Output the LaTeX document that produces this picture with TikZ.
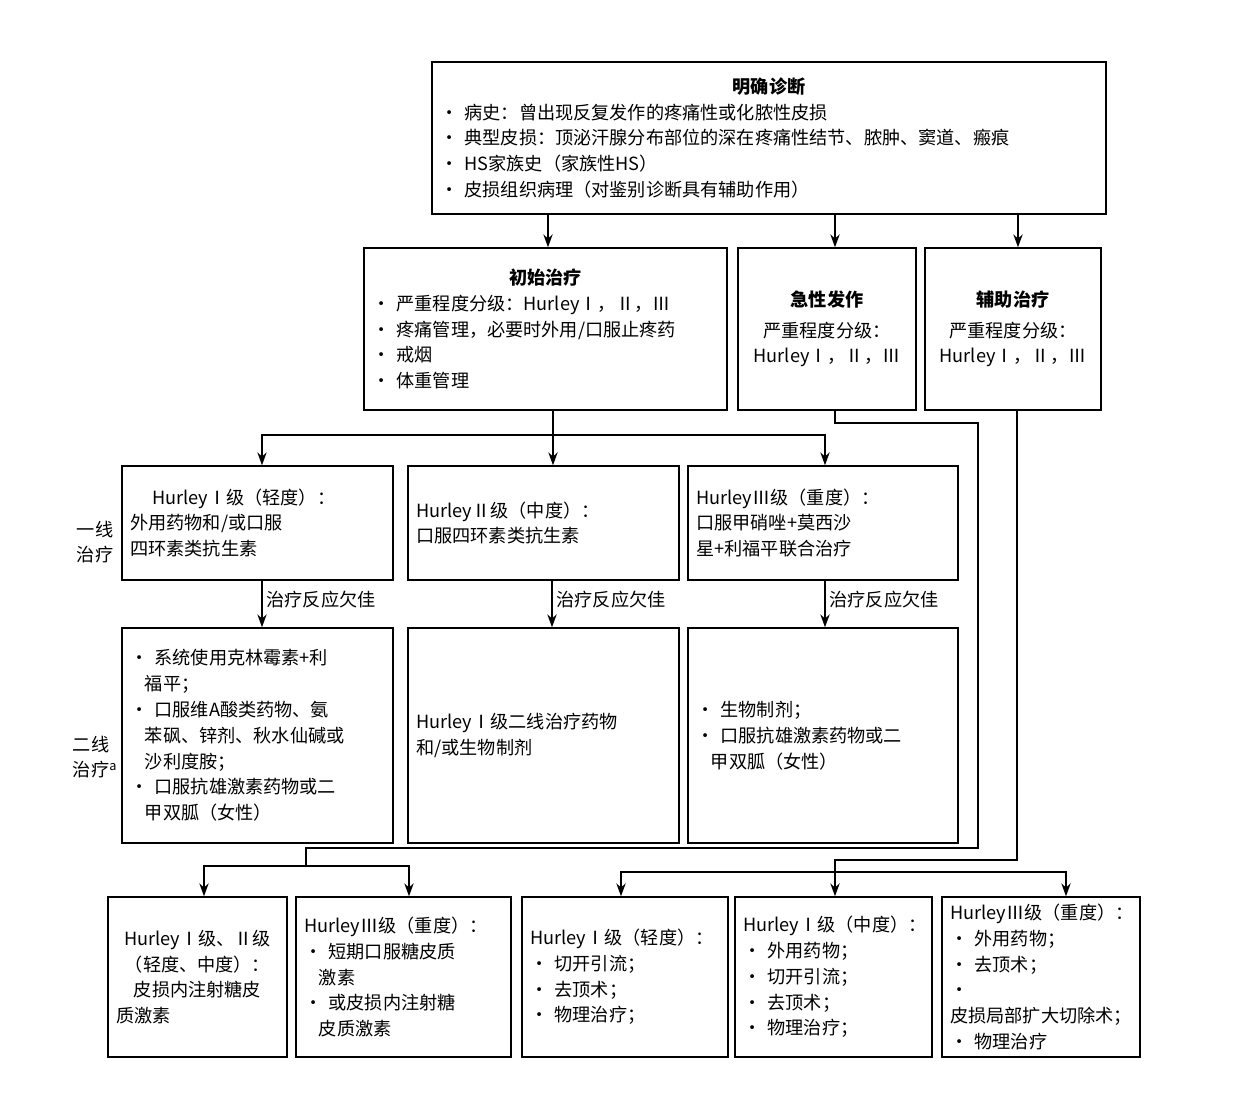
\documentclass[tikz,border=0pt]{standalone}
\usepackage{fontspec}
\setmainfont{Noto Sans CJK SC}
\usetikzlibrary{arrows.meta}
\newcommand{\bx}[6]{\node[box,minimum width={(#4-#2)*0.03cm},minimum height={(#5-#3)*0.03cm},text width={(#4-#2)*0.03cm-0.5cm}] (#1) at ({(#2+#4)/2},{(#3+#5)/2}) {#6};}
\begin{document}
\begin{tikzpicture}[x=0.03cm,y=-0.03cm,
 box/.style={draw,line width=1.3pt,inner sep=0pt,align=left,font=\fontsize{15.5}{22}\selectfont},
 ar/.style={line width=1.1pt,-{Stealth[length=11pt,width=8pt]}},
 ln/.style={line width=1.1pt},
 lab/.style={font=\fontsize{15.5}{22}\selectfont,align=left}]
\useasboundingbox (0,0) rectangle (1247,1116);
\bx{top}{432}{62}{1106}{214}{\centering\textbf{明确诊断}\par\raggedright
• 病史：曾出现反复发作的疼痛性或化脓性皮损\\
• 典型皮损：顶泌汗腺分布部位的深在疼痛性结节、脓肿、窦道、瘢痕\\
• HS家族史（家族性HS）\\
• 皮损组织病理（对鉴别诊断具有辅助作用）}
\bx{init}{364}{248}{727}{410}{\centering\textbf{初始治疗}\par\raggedright
• 严重程度分级：HurleyⅠ，Ⅱ，Ⅲ\\
• 疼痛管理，必要时外用/口服止疼药\\
• 戒烟\\
• 体重管理}
\bx{acute}{738}{248}{916}{410}{\centering\textbf{急性发作}\\[4pt]严重程度分级：\\HurleyⅠ，Ⅱ，Ⅲ\\[36pt]}
\bx{adj}{925}{248}{1101}{410}{\centering\textbf{辅助治疗}\\[4pt]严重程度分级：\\HurleyⅠ，Ⅱ，Ⅲ\\[36pt]}
\bx{a1}{122}{466}{393}{580}{\hspace*{1.2em}HurleyⅠ级（轻度）：\\外用药物和/或口服\\四环素类抗生素}
\bx{a2}{408}{466}{679}{580}{HurleyⅡ级（中度）：\\口服四环素类抗生素}
\bx{a3}{688}{466}{958}{580}{HurleyⅢ级（重度）：\\口服甲硝唑+莫西沙\\星+利福平联合治疗}
\bx{b1}{122}{628}{393}{843}{• 系统使用克林霉素+利\\\hspace*{0.8em}福平；\\• 口服维A酸类药物、氨\\\hspace*{0.8em}苯砜、锌剂、秋水仙碱或\\\hspace*{0.8em}沙利度胺；\\• 口服抗雄激素药物或二\\\hspace*{0.8em}甲双胍（女性）}
\bx{b2}{408}{628}{679}{843}{HurleyⅠ级二线治疗药物\\和/或生物制剂\\[20pt]}
\bx{b3}{688}{628}{958}{843}{• 生物制剂；\\• 口服抗雄激素药物或二\\\hspace*{0.8em}甲双胍（女性）\\[10pt]}
\bx{c1}{108}{897}{287}{1057}{\centering HurleyⅠ级、Ⅱ级\\（轻度、中度）：\\皮损内注射糖皮\\质激素}
\bx{c2}{296}{897}{511}{1057}{HurleyⅢ级（重度）：\\• 短期口服糖皮质\\\hspace*{0.8em}激素\\• 或皮损内注射糖\\\hspace*{0.8em}皮质激素}
\bx{c3}{522}{897}{728}{1057}{HurleyⅠ级（轻度）：\\• 切开引流；\\• 去顶术；\\• 物理治疗；\\[10pt]}
\bx{c4}{735}{897}{932}{1057}{HurleyⅠ级（中度）：\\• 外用药物；\\• 切开引流；\\• 去顶术；\\• 物理治疗；}
\bx{c5}{942}{897}{1140}{1057}{HurleyⅢ级（重度）：\\• 外用药物；\\• 去顶术；\\• 皮损局部扩大切除术；\\• 物理治疗}
\node[lab] (l1) at (95,542) {一线\\治疗};
\node[lab] (l2) at (95,757) {二线\\治疗$^{\mathrm a}$};
% top arrows
\draw[ar] (top.south -| 548,0) -- (init.north -| 548,0);
\draw[ar] (top.south -| 835,0) -- (acute.north -| 835,0);
\draw[ar] (top.south -| 1018,0) -- (adj.north -| 1018,0);
% init to row1
\coordinate (j1) at (553,435);
\draw[ln] (init.south -| 553,0) -- (j1);
\draw[ar] (j1) -- (262,435) -- (a1.north -| 262,0);
\draw[ar] (j1) -- (a2.north -| 553,0);
\draw[ar] (j1) -- (825,435) -- (a3.north -| 825,0);
% row1 to row2
\foreach \a/\b/\x in {a1/b1/262,a2/b2/552,a3/b3/825}{
 \draw[ar] (\a.south -| \x,0) -- node[lab,right,pos=0.4]{治疗反应欠佳} (\b.north -| \x,0);}
% acute
\coordinate (j2) at (306,866);
\draw[ln] (acute.south -| 835,0) -- (835,423) -- (978,423) -- (978,848) -- (306,848) -- (j2);
\draw[ar] (j2) -- (204,866) -- (c1.north -| 204,0);
\draw[ar] (j2) -- (409,866) -- (c2.north -| 409,0);
% adj
\coordinate (j3) at (835,872);
\draw[ln] (adj.south -| 1017,0) -- (1017,860) -- (835,860) -- (j3);
\draw[ar] (j3) -- (621,872) -- (c3.north -| 621,0);
\draw[ar] (j3) -- (c4.north -| 835,0);
\draw[ar] (j3) -- (1066,872) -- (c5.north -| 1066,0);
\end{tikzpicture}
\end{document}
